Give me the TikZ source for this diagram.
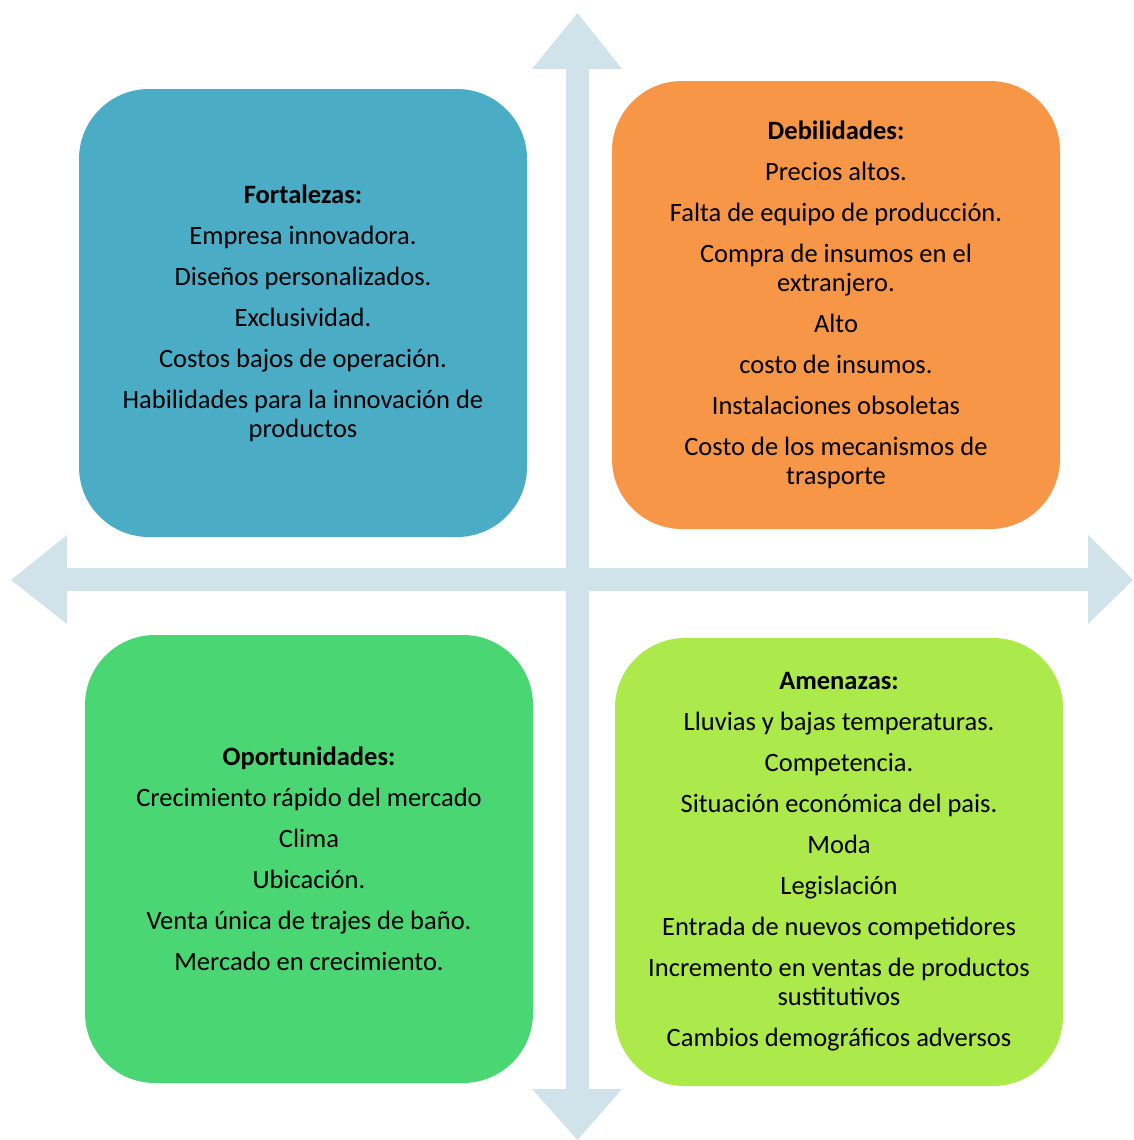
\documentclass[tikz,border=0pt]{standalone}
\usepackage{fontspec}
\setmainfont{Carlito}
\definecolor{cblue}{HTML}{4BACC6}
\definecolor{corange}{HTML}{F79646}
\definecolor{cgreen}{HTML}{4AD673}
\definecolor{clime}{HTML}{ACE94A}
\definecolor{carrow}{HTML}{D0E2EA}
\begin{document}
\begin{tikzpicture}[x=1pt,y=-1pt,
  quad/.style={rounded corners=70pt, minimum width=448pt, minimum height=448pt,
    inner sep=0pt, align=center, font=\fontsize{26.5}{29}\selectfont, text=black}]
\useasboundingbox (0,0) rectangle (1133,1140);
% axes
\fill[carrow] (566,69) -- (532,69) -- (577.5,13) -- (622,69) -- (589,69) -- (589,1089)
  -- (622,1089) -- (577.5,1140) -- (532,1089) -- (566,1089) -- cycle;
\fill[carrow] (67,568) -- (67,535) -- (11,580) -- (67,624) -- (67,591) -- (1088,591)
  -- (1088,624) -- (1133,580) -- (1088,535) -- (1088,568) -- cycle;
% quadrants
\node[quad, fill=cblue] (fort) at (303,313) {\textbf{Fortalezas:}\\[12pt]
Empresa innovadora.\\[12pt]
Diseños personalizados.\\[12pt]
Exclusividad.\\[12pt]
Costos bajos de operación.\\[12pt]
Habilidades para la innovación de\\productos};
\node[quad, fill=corange] (deb) at (836,305) {\textbf{Debilidades:}\\[12pt]
Precios altos.\\[12pt]
Falta de equipo de producción.\\[12pt]
Compra de insumos en el\\extranjero.\\[12pt]
Alto\\[12pt]
costo de insumos.\\[12pt]
Instalaciones obsoletas\\[12pt]
Costo de los mecanismos de\\trasporte};
\node[quad, fill=cgreen] (opo) at (309,859) {\textbf{Oportunidades:}\\[12pt]
Crecimiento rápido del mercado\\[12pt]
Clima\\[12pt]
Ubicación.\\[12pt]
Venta única de trajes de baño.\\[12pt]
Mercado en crecimiento.};
\node[quad, fill=clime] (ame) at (839,862) {\textbf{Amenazas:}\\[12pt]
Lluvias y bajas temperaturas.\\[12pt]
Competencia.\\[12pt]
Situación económica del pais.\\[12pt]
Moda\\[12pt]
Legislación\\[12pt]
Entrada de nuevos competidores\\[12pt]
Incremento en ventas de productos\\sustitutivos\\[12pt]
Cambios demográficos adversos};
\end{tikzpicture}
\end{document}
